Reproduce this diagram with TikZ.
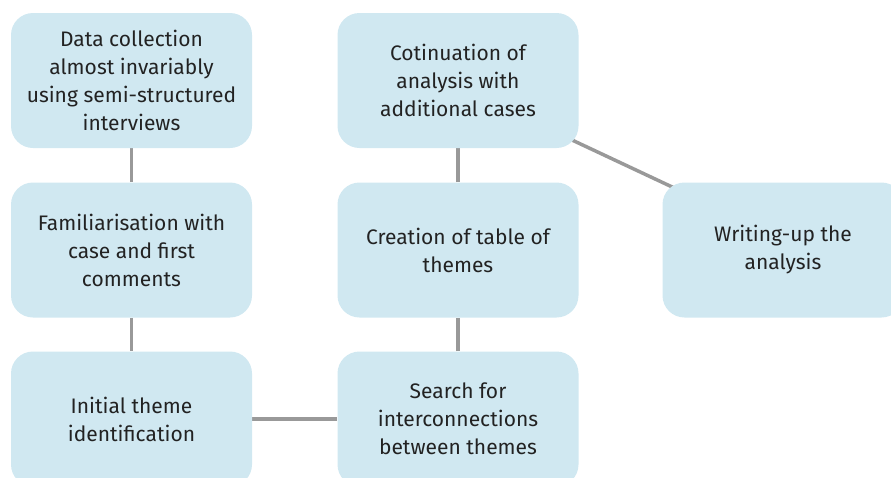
\documentclass[tikz,border=0pt]{standalone}
\usepackage{fontspec}
\setmainfont{Fira Sans}
\usetikzlibrary{backgrounds}
\definecolor{boxfill}{HTML}{D0E8F1}
\definecolor{linkgray}{HTML}{999999}
\definecolor{textdark}{HTML}{222222}
\begin{document}
\begin{tikzpicture}[x=1pt,y=-1pt,
  stagebox/.style={fill=boxfill, rounded corners=22pt, minimum width=241pt,
    minimum height=135pt, inner sep=0pt, align=center, text=textdark,
    font=\fontsize{21pt}{28pt}\selectfont},
  link/.style={draw=linkgray, line width=3.5pt}]
\useasboundingbox (0,0) rectangle (891,477);
\clip (0,0) rectangle (891,477);
% first column
\node[stagebox] (collect) at (131.5,80.5) {Data collection\\almost invariably\\using semi-structured\\interviews};
\node[stagebox] (famil) at (131.5,250) {Familiarisation with\\case and first\\comments};
\node[stagebox] (initial) at (131.5,419) {Initial theme\\identification};
% second column
\node[stagebox] (contin) at (458,80.5) {Cotinuation of\\analysis with\\additional cases};
\node[stagebox] (table) at (458,250) {Creation of table of\\themes};
\node[stagebox] (search) at (458,419) {Search for\\interconnections\\between themes};
% third column
\node[stagebox] (write) at (783,250) {Writing-up the\\analysis};
% connectors, drawn behind the boxes
\begin{scope}[on background layer]
\draw[link] (collect) -- (famil);
\draw[link] (famil) -- (initial);
\draw[link] (initial) -- (search);
\draw[link] (search) -- (table);
\draw[link] (table) -- (contin);
\draw[link] ([yshift=-6pt]contin.center) -- ([yshift=11pt]write.center);
\end{scope}
\end{tikzpicture}
\end{document}
